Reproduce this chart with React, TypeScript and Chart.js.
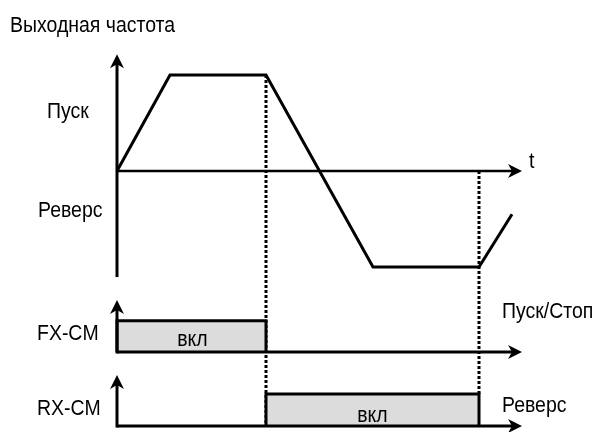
import React, { useEffect, useRef } from "react";
import { Chart, registerables } from "chart.js";

Chart.register(...registerables);

// ---- data ----
const freqTimes = [0, 5.3, 14.9, 25.6, 36.2, 39.5];
const freqValues = [0, 60, 60, -60, -60, -27];
const fxOnInterval = [0, 14.9];
const rxOnInterval = [14.9, 36.2];
const markerTimes = [14.9, 36.2];
const titleText = "Выходная частота";
const forwardLabel = "Пуск";
const reverseLabel = "Реверс";
const timeLabel = "t";
const fxLabel = "FX-CM";
const rxLabel = "RX-CM";
const fxRightLabel = "Пуск/Стоп";
const rxRightLabel = "Реверс";
const stateLabel = "вкл";

// ---- layout constants (scale units) ----
const X_MIN = -11.7;
const X_MAX = 48.8;
const Y_MAX = 171 / 1.6;
const Y_MIN = -261 / 1.6;
const T_AXIS_END = 40.5;
const FREQ_AXIS_TOP = 73;
const FREQ_AXIS_BOTTOM = -66.3;
const FX = { base: -113.1, high: -93.6, tip: -80.6 };
const RX = { base: -159.4, high: -139.4, tip: -127.5 };

const FONT = '22px "Liberation Sans Narrow", "Liberation Sans", Arial, sans-serif';
const SQUEEZE = 0.885;

function rectPoints(iv: number[], lane: { base: number; high: number }) {
  return [
    { x: iv[0], y: lane.base },
    { x: iv[0], y: lane.high },
    { x: iv[1], y: lane.high },
    { x: iv[1], y: lane.base },
  ];
}

function arrowHead(ctx: CanvasRenderingContext2D, x: number, y: number, dir: "up" | "right") {
  const L = 14, H = 7, N = 4;
  ctx.save();
  ctx.translate(x, y);
  if (dir === "right") ctx.rotate(Math.PI / 2);
  ctx.beginPath();
  ctx.moveTo(0, 0);
  ctx.lineTo(-H, L);
  ctx.lineTo(0, L - N);
  ctx.lineTo(H, L);
  ctx.closePath();
  ctx.fillStyle = "#000";
  ctx.fill();
  ctx.restore();
}

function text(ctx: CanvasRenderingContext2D, s: string, x: number, y: number, align: CanvasTextAlign = "left") {
  ctx.save();
  ctx.translate(x, y);
  ctx.scale(SQUEEZE, 1);
  ctx.textAlign = align;
  ctx.fillText(s, 0, 0);
  ctx.restore();
}

const overlay = {
  id: "overlay",
  afterDatasetsDraw(chart: any) {
    const ctx: CanvasRenderingContext2D = chart.ctx;
    const xs = chart.scales.x;
    const ys = chart.scales.y;
    const px = (v: number) => xs.getPixelForValue(v);
    const py = (v: number) => ys.getPixelForValue(v);
    ctx.save();
    ctx.strokeStyle = "#000";
    ctx.lineCap = "butt";
    // main vertical axis
    ctx.lineWidth = 3;
    ctx.beginPath();
    ctx.moveTo(px(0), py(FREQ_AXIS_BOTTOM));
    ctx.lineTo(px(0), py(FREQ_AXIS_TOP) + 8);
    ctx.stroke();
    arrowHead(ctx, px(0), py(FREQ_AXIS_TOP), "up");
    // time axis
    ctx.lineWidth = 2.5;
    ctx.beginPath();
    ctx.moveTo(px(0), py(0));
    ctx.lineTo(px(T_AXIS_END) - 8, py(0));
    ctx.stroke();
    arrowHead(ctx, px(T_AXIS_END), py(0), "right");
    // lanes
    for (const lane of [FX, RX]) {
      ctx.lineWidth = 3;
      ctx.beginPath();
      ctx.moveTo(px(0), py(lane.base) + 1.5);
      ctx.lineTo(px(0), py(lane.tip) + 8);
      ctx.stroke();
      arrowHead(ctx, px(0), py(lane.tip), "up");
      ctx.beginPath();
      ctx.moveTo(px(0), py(lane.base));
      ctx.lineTo(px(T_AXIS_END) - 8, py(lane.base));
      ctx.stroke();
      arrowHead(ctx, px(T_AXIS_END), py(lane.base), "right");
    }
    // texts
    ctx.fillStyle = "#000";
    ctx.font = FONT;
    ctx.textBaseline = "alphabetic";
    text(ctx, titleText, 10, 32);
    text(ctx, forwardLabel, 47, 118);
    text(ctx, reverseLabel, 38, 217);
    text(ctx, timeLabel, px(T_AXIS_END) + 7, py(0) - 3);
    text(ctx, fxLabel, 37, 340);
    text(ctx, rxLabel, 37, 415);
    text(ctx, fxRightLabel, 502, 318);
    text(ctx, rxRightLabel, 502, 412);
    text(ctx, stateLabel, (px(fxOnInterval[0]) + px(fxOnInterval[1])) / 2 + 1, py(FX.base) - 6, "center");
    text(ctx, stateLabel, (px(rxOnInterval[0]) + px(rxOnInterval[1])) / 2, py(RX.base) - 4, "center");
    ctx.restore();
  },
};

export default function App() {
  const ref = useRef<HTMLCanvasElement>(null);
  useEffect(() => {
    if (!ref.current) return;
    const dotted = { borderColor: "#000", borderWidth: 3, borderDash: [3, 2], pointRadius: 0, fill: false, showLine: true, order: 3 };
    const chart = new Chart(ref.current, {
      type: "scatter",
      data: {
        datasets: [
          {
            label: "freq",
            data: freqTimes.map((t, i) => ({ x: t, y: freqValues[i] })),
            showLine: true,
            borderColor: "#000",
            borderWidth: 3,
            pointRadius: 0,
            borderJoinStyle: "miter",
            fill: false,
            order: 1,
          },
          {
            label: "fx",
            data: rectPoints(fxOnInterval, FX),
            showLine: true,
            borderColor: "#000",
            borderWidth: 3,
            pointRadius: 0,
            backgroundColor: "#dcdcdc",
            fill: { value: FX.base },
            borderJoinStyle: "miter",
            order: 2,
          },
          {
            label: "rx",
            data: rectPoints(rxOnInterval, RX),
            showLine: true,
            borderColor: "#000",
            borderWidth: 3,
            pointRadius: 0,
            backgroundColor: "#dcdcdc",
            fill: { value: RX.base },
            borderJoinStyle: "miter",
            order: 2,
          },
          {
            label: "mark1",
            data: [
              { x: markerTimes[0], y: freqValues[2] },
              { x: markerTimes[0], y: RX.base },
            ],
            ...dotted,
          },
          {
            label: "mark2",
            data: [
              { x: markerTimes[1], y: 0 },
              { x: markerTimes[1], y: RX.high },
            ],
            ...dotted,
          },
        ],
      },
      options: {
        animation: false,
        responsive: false,
        devicePixelRatio: 1,
        layout: { padding: 0 },
        plugins: { legend: { display: false }, tooltip: { enabled: false } },
        events: [],
        scales: {
          x: { type: "linear", min: X_MIN, max: X_MAX, display: false },
          y: { type: "linear", min: Y_MIN, max: Y_MAX, display: false },
        },
      },
      plugins: [overlay],
    } as any);
    return () => chart.destroy();
  }, []);
  return (
    <canvas
      ref={ref}
      width={605}
      height={432}
      style={{ position: "absolute", left: 0, top: 0, width: 605, height: 432, display: "block" }}
    />
  );
}
